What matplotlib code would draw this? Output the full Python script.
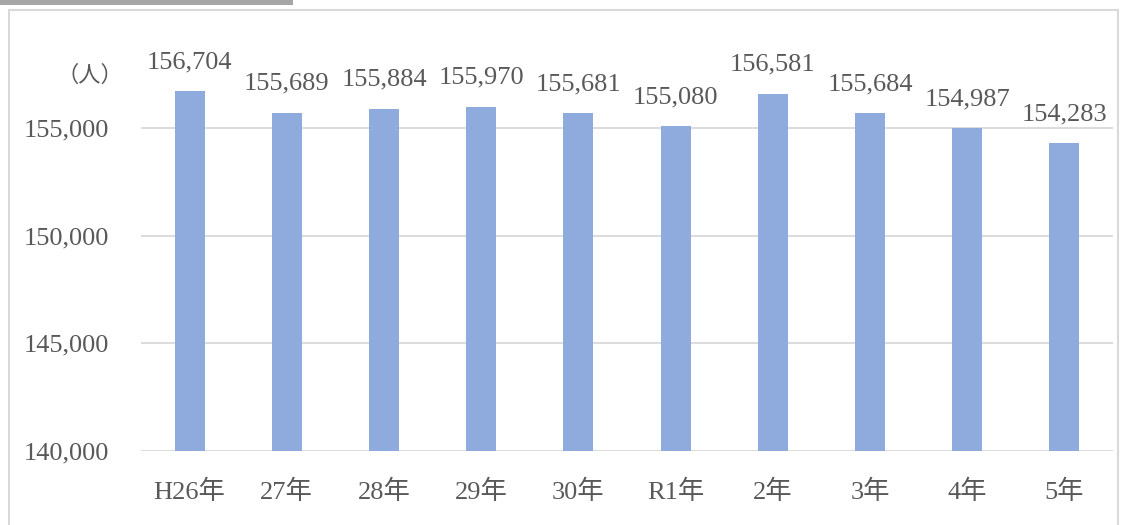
import matplotlib
matplotlib.use('Agg')
import matplotlib.pyplot as plt
from matplotlib.patches import Rectangle
from matplotlib.ticker import FuncFormatter

plt.rcParams['font.family'] = ['Liberation Serif', 'Noto Sans CJK JP']
plt.rcParams['font.size'] = 19

# data
years = ['H26年', '27年', '28年', '29年', '30年', 'R1年', '2年', '3年', '4年', '5年']
people = [156704, 155689, 155884, 155970, 155681, 155080, 156581, 155684, 154987, 154283]
yticks = [140000, 145000, 150000, 155000]

txt_col = '#595959'
bar_col = '#8FAADC'

fig = plt.figure(figsize=(11.31, 5.25), dpi=100)

# outer frame of the chart area + grey strip on top
fig.patches.append(Rectangle((9/1131, -0.1), (1118-9)/1131, 1.1 - 10/525, transform=fig.transFigure,
                             fill=False, edgecolor='#D9D9D9', linewidth=1.5))
fig.patches.append(Rectangle((0, 1 - 5/525), 293/1131, 5/525, transform=fig.transFigure,
                             facecolor='#A6A6A6', edgecolor='none'))

ax = fig.add_axes([141/1131, (525-451)/525, (1113-141)/1131, (451-20)/525])

x = range(len(years))
ax.bar(x, people, width=0.31, color=bar_col, zorder=3)

for i, v in enumerate(people):
    ax.annotate('{:,}'.format(v), (i, v), xytext=(0, 13), textcoords='offset points',
                ha='center', va='bottom', color=txt_col, fontsize=19, clip_on=False)

ax.set_xlim(-0.5, len(years) - 0.5)
ax.set_ylim(140000, 160000)
ax.set_yticks(yticks)
ax.yaxis.set_major_formatter(FuncFormatter(lambda v, p: '{:,}'.format(int(v))))
ax.set_xticks(list(x))
ax.set_xticklabels(years)
ax.grid(axis='y', color='#D9D9D9', linewidth=1.3, zorder=0)
for s in ax.spines.values():
    s.set_visible(False)
ax.tick_params(length=0, colors=txt_col, labelsize=19)
ax.tick_params(axis='y', pad=23)
ax.tick_params(axis='x', pad=21)

ax.text(-0.018, 0.87, '（人）', transform=ax.transAxes, ha='right', va='center',
        color=txt_col, fontsize=16)

fig.savefig('out.png', dpi=100)
